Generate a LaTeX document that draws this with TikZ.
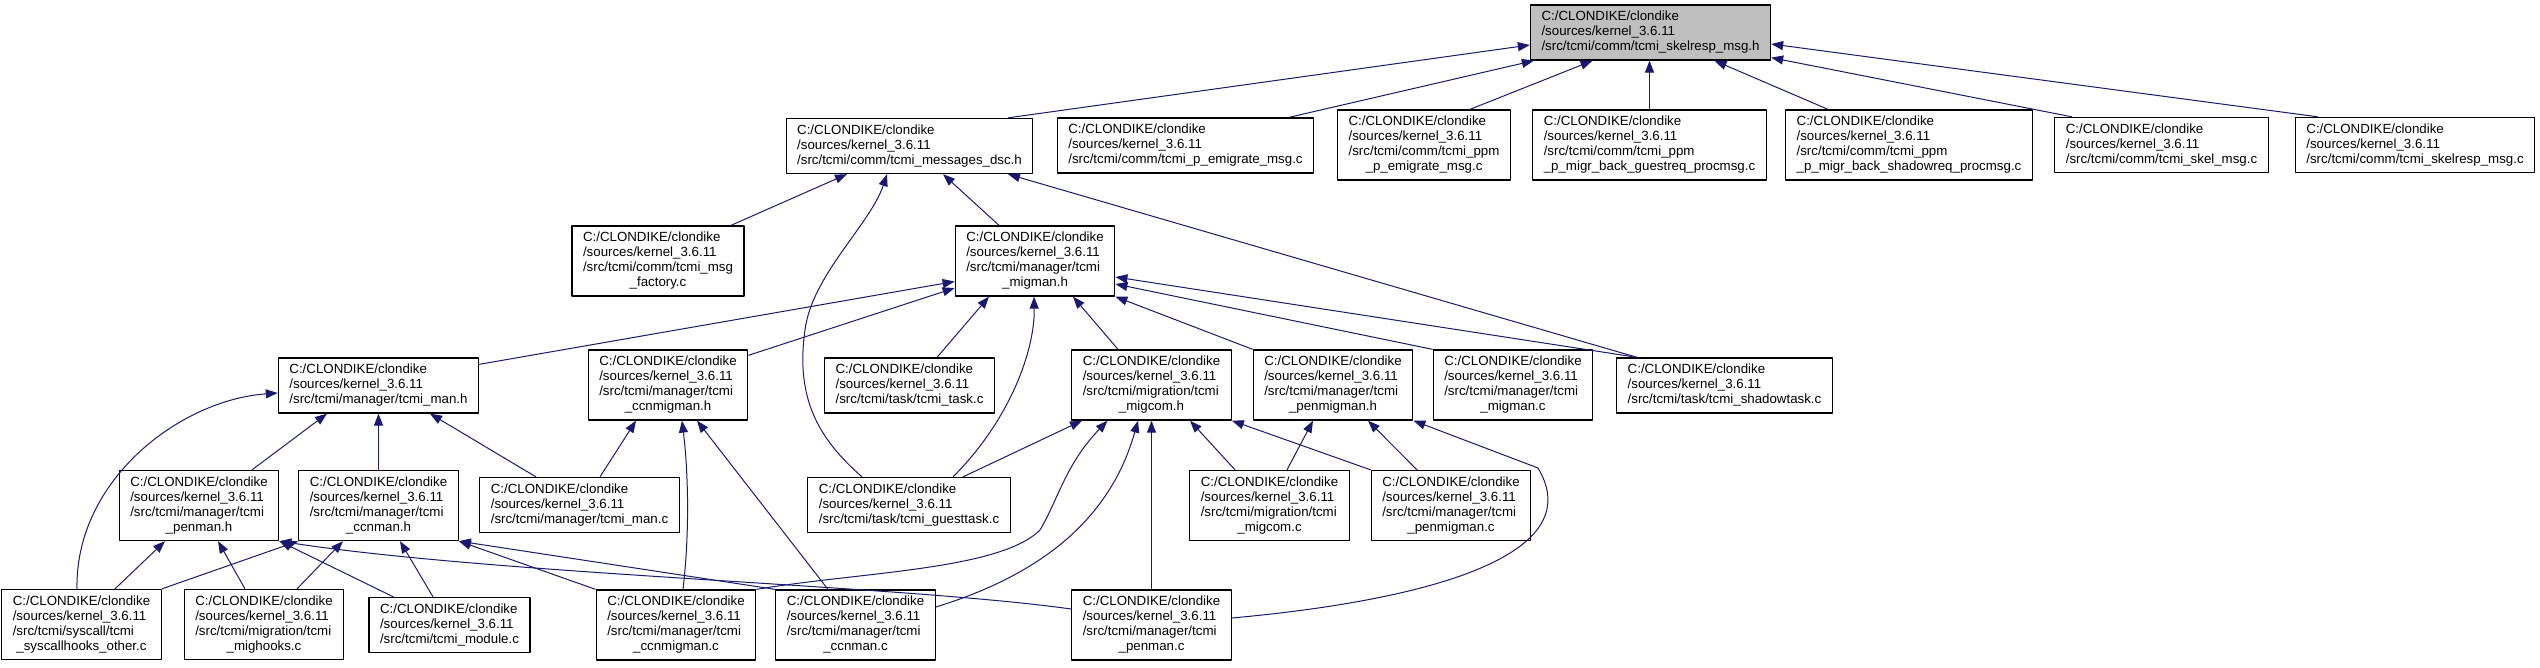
\documentclass[tikz,border=0pt]{standalone}
\usepackage{fontspec}
\usetikzlibrary{arrows.meta}
\newfontfamily\dotfont{Liberation Sans}
\definecolor{edgeblue}{HTML}{191970}
\definecolor{rootgray}{HTML}{BFBFBF}
\newcommand{\flabel}[1]{\begin{tabular}{@{}l@{}}C:/CLONDIKE/clondike\\/sources/kernel\_3.6.11\\#1\end{tabular}}
\newcommand{\tail}[1]{\multicolumn{1}{@{}c@{}}{#1}}
\begin{document}
\begin{tikzpicture}[x=1pt,y=-1pt,line join=round,
  file/.style={draw=black,line width=1.3pt,fill=white,inner xsep=11pt,inner ysep=5pt,
    font=\dotfont\fontsize{13.3}{15}\selectfont},
  dep/.style={draw=edgeblue,line width=1pt,-{Triangle[length=12pt,width=9pt]}}]
  \useasboundingbox (0,0) rectangle (2540,667);
  % top row
  \node[file,fill=rootgray] (root) at (1650.5,32.5) {\flabel{/src/tcmi/comm/tcmi\_skelresp\_msg.h}};
  \node[file] (msgdsc) at (909.5,146) {\flabel{/src/tcmi/comm/tcmi\_messages\_dsc.h}};
  \node[file] (pemig) at (1185.5,145.5) {\flabel{/src/tcmi/comm/tcmi\_p\_emigrate\_msg.c}};
  \node[file] (ppmemig) at (1424,145) {\flabel{/src/tcmi/comm/tcmi\_ppm\\\tail{\_p\_emigrate\_msg.c}}};
  \node[file] (guestreq) at (1649.5,145) {\flabel{/src/tcmi/comm/tcmi\_ppm\\\tail{\_p\_migr\_back\_guestreq\_procmsg.c}}};
  \node[file] (shadowreq) at (1909,145) {\flabel{/src/tcmi/comm/tcmi\_ppm\\\tail{\_p\_migr\_back\_shadowreq\_procmsg.c}}};
  \node[file] (skelmsg) at (2161.5,145) {\flabel{/src/tcmi/comm/tcmi\_skel\_msg.c}};
  \node[file] (skelrespc) at (2415,145) {\flabel{/src/tcmi/comm/tcmi\_skelresp\_msg.c}};
  % middle rows
  \node[file] (msgfact) at (658,261) {\flabel{/src/tcmi/comm/tcmi\_msg\\\tail{\_factory.c}}};
  \node[file] (migmanh) at (1035,261) {\flabel{/src/tcmi/manager/tcmi\\\tail{\_migman.h}}};
  \node[file] (manh) at (378.5,385.5) {\flabel{/src/tcmi/manager/tcmi\_man.h}};
  \node[file] (ccnmigmanh) at (668,385) {\flabel{/src/tcmi/manager/tcmi\\\tail{\_ccnmigman.h}}};
  \node[file] (taskc) at (909.5,385.5) {\flabel{/src/tcmi/task/tcmi\_task.c}};
  \node[file] (migcomh) at (1151.5,385) {\flabel{/src/tcmi/migration/tcmi\\\tail{\_migcom.h}}};
  \node[file] (penmigmanh) at (1333,385) {\flabel{/src/tcmi/manager/tcmi\\\tail{\_penmigman.h}}};
  \node[file] (migmanc) at (1513,385) {\flabel{/src/tcmi/manager/tcmi\\\tail{\_migman.c}}};
  \node[file] (shadowc) at (1724.5,385.5) {\flabel{/src/tcmi/task/tcmi\_shadowtask.c}};
  \node[file] (penmanh) at (199,505.5) {\flabel{/src/tcmi/manager/tcmi\\\tail{\_penman.h}}};
  \node[file] (ccnmanh) at (378.5,505.5) {\flabel{/src/tcmi/manager/tcmi\\\tail{\_ccnman.h}}};
  \node[file] (manc) at (579.5,505) {\flabel{/src/tcmi/manager/tcmi\_man.c}};
  \node[file] (guestc) at (909,505) {\flabel{/src/tcmi/task/tcmi\_guesttask.c}};
  \node[file] (migcomc) at (1269.5,505.5) {\flabel{/src/tcmi/migration/tcmi\\\tail{\_migcom.c}}};
  \node[file] (penmigmanc) at (1451,505.5) {\flabel{/src/tcmi/manager/tcmi\\\tail{\_penmigman.c}}};
  % bottom row
  \node[file] (syshooks) at (81.5,624.5) {\flabel{/src/tcmi/syscall/tcmi\\\tail{\_syscallhooks\_other.c}}};
  \node[file] (mighooks) at (264,624.5) {\flabel{/src/tcmi/migration/tcmi\\\tail{\_mighooks.c}}};
  \node[file] (modulec) at (449.5,625) {\flabel{/src/tcmi/tcmi\_module.c}};
  \node[file] (ccnmigmanc) at (676,625) {\flabel{/src/tcmi/manager/tcmi\\\tail{\_ccnmigman.c}}};
  \node[file] (ccnmanc) at (855.5,625) {\flabel{/src/tcmi/manager/tcmi\\\tail{\_ccnman.c}}};
  \node[file] (penmanc) at (1151.5,625) {\flabel{/src/tcmi/manager/tcmi\\\tail{\_penman.c}}};
  % includes of the root
  \draw[dep] ([xshift=98.5pt]msgdsc.north) -- ([yshift=-12.5pt]root.west);
  \draw[dep] ([xshift=103.5pt]pemig.north) -- ([xshift=4pt]root.south west);
  \draw[dep] ([xshift=46pt]ppmemig.north) -- ([xshift=-58pt]root.south);
  \draw[dep] (guestreq.north) -- (guestreq.north |- root.south);
  \draw[dep] ([xshift=-81pt]shadowreq.north) -- ([xshift=64pt]root.south);
  \draw[dep] ([xshift=-89.5pt]skelmsg.north) -- ([yshift=3pt]root.south east);
  \draw[dep] ([xshift=-97pt]skelrespc.north) -- ([yshift=-11.5pt]root.east);
  % tcmi_messages_dsc.h
  \draw[dep] ([xshift=73pt]msgfact.north) -- ([xshift=-62.5pt]msgdsc.south);
  \draw[dep] ([xshift=-47pt]guestc.north) .. controls (820,440) and (795,400) .. (805,330)
    .. controls (812,275) and (870,225) .. ([xshift=-22.5pt]msgdsc.south);
  \draw[dep] ([xshift=-36pt]migmanh.north) -- ([xshift=33.5pt]msgdsc.south);
  \draw[dep] ([xshift=-87.5pt]shadowc.north) -- ([xshift=98.5pt]msgdsc.south);
  % tcmi_migman.h
  \draw[dep] ([yshift=-7pt]manh.north east) -- ([yshift=-20.5pt]migmanh.west);
  \draw[dep] ([yshift=-6pt]ccnmigmanh.north east) -- ([yshift=-27pt]migmanh.west);
  \draw[dep] ([xshift=27.5pt]taskc.north) -- ([xshift=-46pt]migmanh.south);
  \draw[dep] ([xshift=44pt]guestc.north) .. controls (1010,420) and (1035,350) .. ([xshift=-1pt]migmanh.south);
  \draw[dep] ([xshift=-33.5pt]migcomh.north) -- ([xshift=38pt]migmanh.south);
  \draw[dep] (penmigmanh.north west) -- (migmanh.south east);
  \draw[dep] (migmanc.north west) -- ([yshift=-23pt]migmanh.east);
  \draw[dep] ([xshift=-87.5pt]shadowc.north) -- ([yshift=-16pt]migmanh.east);
  % tcmi_man.h
  \draw[dep] ([xshift=53pt]penmanh.north) -- ([xshift=-51.5pt]manh.south);
  \draw[dep] (ccnmanh.north) -- (ccnmanh.north |- manh.south);
  \draw[dep] ([xshift=-43.5pt]manc.north) -- ([xshift=51.5pt]manh.south);
  \draw[dep] ([xshift=-4.5pt]syshooks.north) .. controls (75,480) and (180,400) .. ([yshift=-7.5pt]manh.west);
  % tcmi_ccnmigman.h
  \draw[dep] ([xshift=20.5pt]manc.north) -- ([xshift=-32pt]ccnmigmanh.south);
  \draw[dep] ([xshift=7pt]ccnmigmanc.north) .. controls (690,530) and (688,470) .. ([xshift=14pt]ccnmigmanh.south);
  \draw[dep] ([xshift=-27.5pt]ccnmanc.north) -- ([xshift=29pt]ccnmigmanh.south);
  % tcmi_migcom.h
  \draw[dep] ([xshift=54pt]guestc.north) -- ([xshift=-69.5pt]migcomh.south);
  \draw[dep] (ccnmigmanc.north east) .. controls (860,572) and (1000,570) .. (1040,530)
    .. controls (1058,500) and (1065,465) .. ([xshift=-44pt]migcomh.south);
  \draw[dep] ([yshift=18pt]ccnmanc.east) .. controls (1040,575) and (1110,520) .. ([xshift=-13.5pt]migcomh.south);
  \draw[dep] (penmanc.north) -- (migcomh.south);
  \draw[dep] ([xshift=-34.5pt]migcomc.north) -- ([xshift=38.5pt]migcomh.south);
  \draw[dep] (penmigmanc.north west) -- (migcomh.south east);
  % tcmi_penmigman.h
  \draw[dep] ([xshift=17.5pt]migcomc.north) -- ([xshift=-20pt]penmigmanh.south);
  \draw[dep] ([xshift=-34pt]penmigmanc.north) -- ([xshift=35pt]penmigmanh.south);
  \draw[dep] ([yshift=7pt]penmanc.east) .. controls (1430,600) and (1590,555) .. (1538,468) -- (penmigmanh.south east);
  % tcmi_penman.h
  \draw[dep] ([xshift=33.5pt]syshooks.north) -- ([xshift=-34pt]penmanh.south);
  \draw[dep] ([xshift=-19pt]mighooks.north) -- ([xshift=19pt]penmanh.south);
  \draw[dep] ([xshift=25pt]modulec.north west) -- (penmanh.south east);
  \draw[dep] ([yshift=16pt]penmanc.west) .. controls (900,585) and (500,575) .. (penmanh.south east);
  % tcmi_ccnman.h
  \draw[dep] (syshooks.north east) -- (ccnmanh.south west);
  \draw[dep] ([xshift=33pt]mighooks.north) -- ([xshift=-35.5pt]ccnmanh.south);
  \draw[dep] ([xshift=-16.5pt]modulec.north) -- ([xshift=21.5pt]ccnmanh.south);
  \draw[dep] (ccnmigmanc.north west) -- (ccnmanh.south east);
  \draw[dep] (ccnmanc.north west) -- (ccnmanh.south east);
\end{tikzpicture}
\end{document}
